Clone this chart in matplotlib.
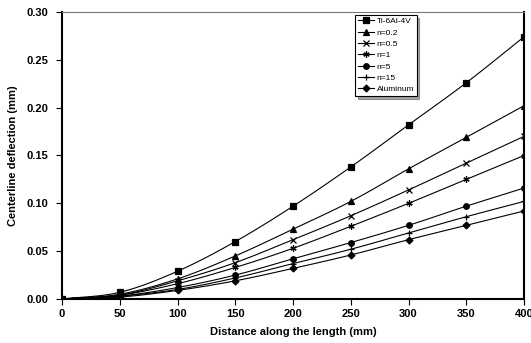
import matplotlib
matplotlib.use("Agg")
import matplotlib.pyplot as plt
import numpy as np

x = [0, 50, 100, 150, 200, 250, 300, 350, 400]
ti = [0, 0.007, 0.029, 0.060, 0.097, 0.138, 0.182, 0.226, 0.274]
n02 = [0, 0.005, 0.021, 0.045, 0.073, 0.102, 0.136, 0.169, 0.202]
n05 = [0, 0.004, 0.019, 0.038, 0.062, 0.087, 0.114, 0.142, 0.170]
n1 = [0, 0.004, 0.016, 0.033, 0.053, 0.076, 0.100, 0.125, 0.150]
n5 = [0, 0.003, 0.012, 0.025, 0.042, 0.059, 0.077, 0.097, 0.116]
n15 = [0, 0.003, 0.010, 0.022, 0.037, 0.052, 0.069, 0.086, 0.102]
alu = [0, 0.002, 0.009, 0.019, 0.032, 0.046, 0.062, 0.077, 0.092]
labels = ["Ti-6Al-4V", "n=0.2", "n=0.5", "n=1", "n=5", "n=15", "Aluminum"]
series = [ti, n02, n05, n1, n5, n15, alu]
markers = ["s", "^", "x", (6, 2, 0), "o", "+", "D"]
msizes = [4, 4, 4, 4.5, 4, 5, 3.5]

plt.rcParams['font.family'] = ['Liberation Sans', 'DejaVu Sans']
fig = plt.figure(figsize=(5.31, 3.43), dpi=100)
ax = fig.add_axes([62/531, 1-299/343, (524-62)/531, (299-12)/343])

def smooth(xs, ys, k=12):
    xs = np.asarray(xs, float); ys = np.asarray(ys, float)
    px = np.concatenate([[2*xs[0]-xs[1]], xs, [2*xs[-1]-xs[-2]]])
    py = np.concatenate([[2*ys[0]-ys[1]], ys, [2*ys[-1]-ys[-2]]])
    ox, oy = [], []
    for i in range(1, len(px)-2):
        t = np.linspace(0, 1, k, endpoint=False)
        def cr(a0, a1, a2, a3):
            return 0.5*((2*a1) + (-a0+a2)*t + (2*a0-5*a1+4*a2-a3)*t**2 + (-a0+3*a1-3*a2+a3)*t**3)
        ox.extend(cr(px[i-1], px[i], px[i+1], px[i+2]))
        oy.extend(cr(py[i-1], py[i], py[i+1], py[i+2]))
    ox.append(xs[-1]); oy.append(ys[-1])
    return ox, oy

for ys, lab, m, ms in zip(series, labels, markers, msizes):
    sx, sy = smooth(x, ys)
    ax.plot(sx, sy, color='black', lw=0.8)
    ax.plot(x, ys, linestyle='none', marker=m, color='black', ms=ms, mew=0.9)
    ax.plot([], [], color='black', lw=0.8, marker=m, ms=ms, mew=0.9, label=lab)

ax.set_xlim(0, 400)
ax.set_ylim(0, 0.30)
ax.set_xticks(np.arange(0, 401, 50))
ax.set_yticks(np.arange(0, 0.301, 0.05))
ax.set_yticklabels([f"{v:.2f}" for v in np.arange(0, 0.301, 0.05)])
ax.tick_params(labelsize=8, length=4, width=0.8, direction='out')
ax.tick_params(axis='y', pad=6)
ax.tick_params(axis='x', pad=3)
for lbl in ax.get_xticklabels() + ax.get_yticklabels():
    lbl.set_fontweight('bold')
ax.set_xlabel("Distance along the length (mm)", fontsize=8, fontweight='bold', labelpad=6)
ax.set_ylabel("Centerline deflection (mm)", fontsize=8, fontweight='bold', labelpad=6)
for s in ['left', 'bottom', 'right']:
    ax.spines[s].set_linewidth(1.5)
ax.spines['top'].set_linewidth(0.8)
ax.spines['top'].set_color('#777777')

leg = ax.legend(loc='upper left', bbox_to_anchor=((355-62)/462, 1-3/287), fontsize=6,
                frameon=True, fancybox=False, shadow=True, handlelength=2.0,
                labelspacing=0.42, borderpad=0.3, handletextpad=0.3, borderaxespad=0)
leg.get_frame().set_edgecolor('black')
leg.get_frame().set_linewidth(0.8)

fig.savefig("out.png", dpi=100)
